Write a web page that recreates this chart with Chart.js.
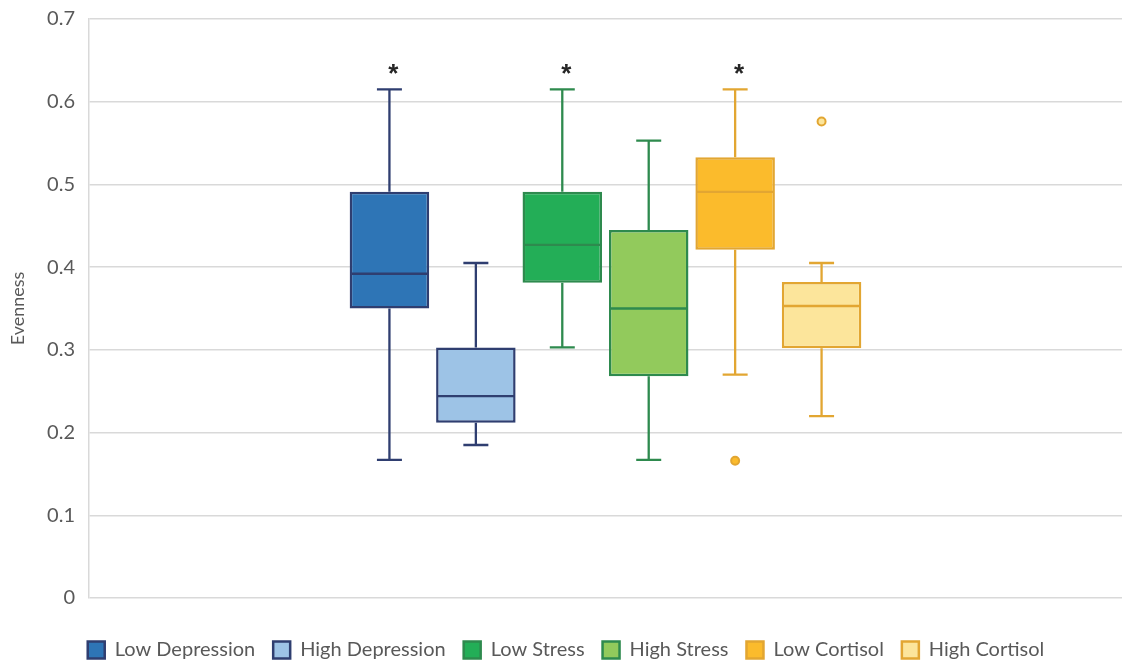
<!DOCTYPE html>
<html>
<head>
<meta charset="utf-8">
<script src="https://cdn.jsdelivr.net/npm/chart.js@4.4.0/dist/chart.umd.min.js"></script>
<style>
  html, body { margin: 0; padding: 0; background: #ffffff; }
  #wrap { width: 1129px; height: 662px; position: relative; }
</style>
</head>
<body>
<div id="wrap"><canvas id="c" width="1129" height="662"></canvas></div>
<script>
// ---- data ----
const categories = [''];
const seriesNames = ['Low Depression', 'High Depression', 'Low Stress', 'High Stress', 'Low Cortisol', 'High Cortisol'];
const whiskerLow  = [0.167, 0.185, 0.303, 0.167, 0.270, 0.220];
const q1          = [0.350, 0.212, 0.381, 0.268, 0.421, 0.302];
const median      = [0.392, 0.244, 0.427, 0.350, 0.491, 0.353];
const q3          = [0.491, 0.303, 0.491, 0.445, 0.533, 0.382];
const whiskerHigh = [0.615, 0.405, 0.615, 0.553, 0.615, 0.405];
const outliers    = [[], [], [], [], [0.166], [0.576]];
const significance = ['*', '', '*', '', '*', ''];
const significanceLevel = 0.641;
const yTicks = [0, 0.1, 0.2, 0.3, 0.4, 0.5, 0.6, 0.7];

// ---- styles ----
const fills   = ['#2E75B6', '#9DC3E6', '#23AE57', '#92CA5C', '#FBBB2C', '#FCE59B'];
const borders = ['#2F3E70', '#2F3E70', '#2E8A4E', '#2E8A4E', '#E2A632', '#E2A632'];
const FONT = 'Lato, "Open Sans", sans-serif';
const TEXT = '#595959';

const datasets = seriesNames.map((name, i) => ({
  label: name,
  data: [[q1[i], q3[i]]],
  backgroundColor: fills[i],
  borderColor: borders[i],
  borderWidth: 2.5,
  borderSkipped: false,
  categoryPercentage: 0.502,
  barPercentage: 0.92
}));

const boxPlotPlugin = {
  id: 'boxPlot',
  afterLayout(chart) {
    const lg = chart.legend;
    if (lg) { lg.left += 5; lg.right += 5; }
  },
  afterDatasetsDraw(chart) {
    const ctx = chart.ctx;
    const y = chart.scales.y;
    ctx.save();
    seriesNames.forEach((name, i) => {
      const meta = chart.getDatasetMeta(i);
      if (!meta || meta.hidden) return;
      const bar = meta.data[0];
      const cx = bar.x;
      const half = bar.width / 2;
      const cap = 12.5;
      ctx.strokeStyle = borders[i];
      ctx.lineWidth = 2.3;
      ctx.lineCap = 'butt';
      ctx.beginPath();
      // upper whisker
      ctx.moveTo(cx, y.getPixelForValue(q3[i]));
      ctx.lineTo(cx, y.getPixelForValue(whiskerHigh[i]));
      ctx.moveTo(cx - cap, y.getPixelForValue(whiskerHigh[i]));
      ctx.lineTo(cx + cap, y.getPixelForValue(whiskerHigh[i]));
      // lower whisker
      ctx.moveTo(cx, y.getPixelForValue(q1[i]));
      ctx.lineTo(cx, y.getPixelForValue(whiskerLow[i]));
      ctx.moveTo(cx - cap, y.getPixelForValue(whiskerLow[i]));
      ctx.lineTo(cx + cap, y.getPixelForValue(whiskerLow[i]));
      // median
      ctx.moveTo(cx - half + 1, y.getPixelForValue(median[i]));
      ctx.lineTo(cx + half - 1, y.getPixelForValue(median[i]));
      ctx.stroke();
      // outliers
      outliers[i].forEach(v => {
        ctx.beginPath();
        ctx.arc(cx, y.getPixelForValue(v), 4, 0, Math.PI * 2);
        ctx.fillStyle = fills[i];
        ctx.fill();
        ctx.lineWidth = 2;
        ctx.strokeStyle = borders[i];
        ctx.stroke();
      });
      // significance marker
      if (significance[i]) {
        ctx.fillStyle = '#262626';
        ctx.font = 'bold 26px "Liberation Sans", Arial, sans-serif';
        ctx.textAlign = 'center';
        ctx.textBaseline = 'alphabetic';
        ctx.fillText(significance[i], cx + 4, y.getPixelForValue(significanceLevel) + 14);
      }
    });
    ctx.restore();
  }
};

new Chart(document.getElementById('c'), {
  type: 'bar',
  data: { labels: categories, datasets },
  options: {
    responsive: false,
    animation: false,
    layout: { padding: { top: 19, right: 7, bottom: -8, left: 0 } },
    plugins: {
      legend: {
        position: 'bottom',
        labels: {
          boxWidth: 17,
          boxHeight: 17,
          padding: 18,
          color: TEXT,
          font: { family: FONT, size: 20 }
        }
      },
      tooltip: { enabled: false }
    },
    scales: {
      x: {
        display: true,
        grid: { display: false },
        border: { display: false },
        ticks: { display: false },
        afterFit(s) { s.height = 24; }
      },
      y: {
        min: 0,
        max: 0.7,
        afterBuildTicks(s) { s.ticks = yTicks.map(v => ({ value: v })); },
        ticks: {
          color: TEXT,
          padding: 14,
          font: { family: FONT, size: 20 },
          callback: v => String(Math.round(v * 10) / 10)
        },
        grid: { color: '#D9D9D9', lineWidth: 1.5, drawTicks: false },
        border: { display: true, color: '#D9D9D9', width: 1.5 },
        title: {
          display: true,
          text: 'Evenness',
          color: TEXT,
          font: { family: FONT, size: 18 },
          padding: { top: 7, bottom: 0 }
        },
        afterFit(s) { s.width = 89; s.paddingTop = 0; s.paddingBottom = 0; }
      }
    }
  },
  plugins: [boxPlotPlugin]
});
</script>
</body>
</html>
